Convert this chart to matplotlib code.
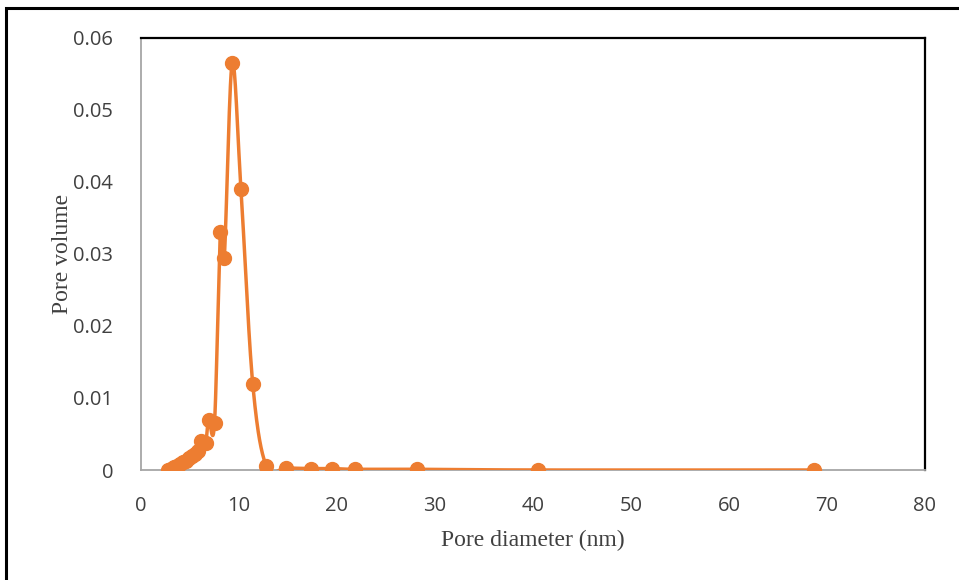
import numpy as np
import matplotlib
matplotlib.use("Agg")
import matplotlib.pyplot as plt
from matplotlib.patches import Rectangle

# Pore size distribution (BJH-style)
pore_diameter = [2.8, 3.1, 3.4, 3.7, 4.0, 4.3, 4.6, 4.9, 5.2, 5.5, 5.8,
                 6.1, 6.6, 6.9, 7.5, 8.1, 8.5, 9.3, 10.2, 11.4, 12.8,
                 14.8, 17.3, 19.5, 21.8, 28.2, 40.5, 68.7]
pore_volume = [0.0000, 0.0002, 0.0004, 0.0006, 0.0008, 0.0011, 0.0013, 0.0016,
               0.0019, 0.0022, 0.0026,
               0.0040, 0.0038, 0.0070, 0.0065, 0.0330, 0.0295, 0.0565, 0.0390,
               0.0120, 0.0005,
               0.0003, 0.0002, 0.0002, 0.0001, 0.0001, 0.0000, 0.0000]

x_ticks = [0, 10, 20, 30, 40, 50, 60, 70, 80]
y_ticks = [0, 0.01, 0.02, 0.03, 0.04, 0.05, 0.06]
y_tick_labels = ["0", "0.01", "0.02", "0.03", "0.04", "0.05", "0.06"]

ORANGE = "#ED7D31"


def smooth_curve(xs, ys, n=40):
    """Cardinal (Catmull-Rom) Bezier smoothing through every point."""
    p = np.column_stack([xs, ys]).astype(float)
    ext = np.vstack([p[0], p, p[-1]])
    out = []
    t = np.linspace(0, 1, n)[:, None]
    for i in range(1, len(ext) - 2):
        p0, p1, p2, p3 = ext[i - 1], ext[i], ext[i + 1], ext[i + 2]
        c1 = p1 + (p2 - p0) / 6.0
        c2 = p2 - (p3 - p1) / 6.0
        seg = ((1 - t) ** 3) * p1 + 3 * ((1 - t) ** 2) * t * c1 \
            + 3 * (1 - t) * t ** 2 * c2 + t ** 3 * p2
        out.append(seg if i == 1 else seg[1:])
    seg = np.vstack(out)
    return seg[:, 0], seg[:, 1]


fig = plt.figure(figsize=(9.59, 5.80), dpi=100)
ax = fig.add_axes([141 / 959, 1 - 470 / 580, (925 - 141) / 959, (470 - 38) / 580])

sx, sy = smooth_curve(pore_diameter, pore_volume)
ax.plot(sx, sy, color=ORANGE, lw=2.5, solid_capstyle="round", zorder=3)
ax.plot(pore_diameter, pore_volume, "o", color=ORANGE, ms=10, mec=ORANGE, zorder=4)

ax.set_xlim(0, 80)
ax.set_ylim(0, 0.06)
ax.set_xticks(x_ticks)
ax.set_xticklabels([str(v) for v in x_ticks])
ax.set_yticks(y_ticks)
ax.set_yticklabels(y_tick_labels)
ax.tick_params(length=0, labelsize=14.5, colors="#404040")
ax.tick_params(axis="x", pad=19)
ax.tick_params(axis="y", pad=20)
for lab in ax.get_xticklabels() + ax.get_yticklabels():
    lab.set_fontfamily("Open Sans")

ax.spines["left"].set_color("#A6A6A6")
ax.spines["bottom"].set_color("#A6A6A6")
ax.spines["left"].set_linewidth(1.3)
ax.spines["bottom"].set_linewidth(1.3)
ax.spines["top"].set_color("black")
ax.spines["right"].set_color("black")
ax.spines["top"].set_linewidth(1.6)
ax.spines["right"].set_linewidth(1.6)

ax.set_xlabel("Pore diameter (nm)", fontfamily="Liberation Serif", fontsize=17,
              color="#404040", labelpad=10)
ax.set_ylabel("Pore volume", fontfamily="Liberation Serif", fontsize=17,
              color="#404040", labelpad=0)

# outer frame around the chart
fig.patches.append(Rectangle((6 / 959, -0.05), 1.2, 1 - 8 / 580 + 0.05,
                             transform=fig.transFigure, fill=False,
                             edgecolor="black", lw=2.2))

fig.savefig("out.png", dpi=100)
